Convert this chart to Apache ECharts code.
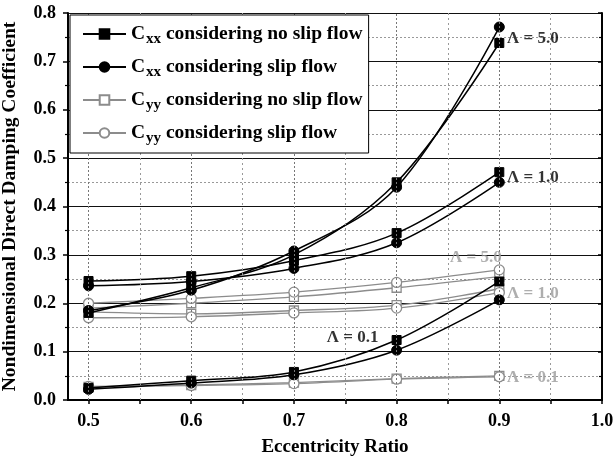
<!DOCTYPE html>
<html>
<head>
<meta charset="utf-8">
<script src="https://cdn.jsdelivr.net/npm/echarts@6/dist/echarts.min.js"></script>
<style>html,body{margin:0;padding:0;background:#fff;}#c{width:614px;height:468px;}</style>
</head>
<body>
<div id="c"></div>
<script>
// ---- data ----
const xValues = [0.5, 0.6, 0.7, 0.8, 0.9];
const xTickLabels = [0.5, 0.6, 0.7, 0.8, 0.9, 1.0];
const xMinorTicks = [0.55, 0.65, 0.75, 0.85, 0.95];
const seriesNames = [
  'Cxx considering no slip flow',
  'Cxx considering slip flow',
  'Cyy considering no slip flow',
  'Cyy considering slip flow'
];
// Cxx (no slip / slip) for Lambda = 0.1, 1.0, 5.0
const cxxNoSlip_L01 = [0.025, 0.040, 0.058, 0.124, 0.245];
const cxxSlip_L01   = [0.022, 0.035, 0.052, 0.103, 0.207];
const cxxNoSlip_L1  = [0.246, 0.256, 0.288, 0.345, 0.471];
const cxxSlip_L1    = [0.236, 0.245, 0.272, 0.325, 0.450];
const cxxNoSlip_L5  = [0.180, 0.232, 0.300, 0.450, 0.738];
const cxxSlip_L5    = [0.185, 0.227, 0.308, 0.440, 0.771];
// Cyy (no slip / slip) for Lambda = 0.1, 1.0, 5.0
const cyyNoSlip_L01 = [0.027, 0.031, 0.036, 0.044, 0.050];
const cyySlip_L01   = [0.028, 0.030, 0.034, 0.043, 0.048];
const cyyNoSlip_L1  = [0.182, 0.178, 0.185, 0.196, 0.230];
const cyySlip_L1    = [0.170, 0.172, 0.180, 0.190, 0.222];
const cyyNoSlip_L5  = [0.190, 0.200, 0.213, 0.232, 0.255];
const cyySlip_L5    = [0.200, 0.210, 0.223, 0.243, 0.269];
// annotations [text, x, y, group]
const annotations = [
  ['\u039B = 5.0', 0.9075, 0.748, 'cxx'],
  ['\u039B = 1.0', 0.9075, 0.459, 'cxx'],
  ['\u039B = 0.1', 0.732, 0.128, 'cxx'],
  ['\u039B = 5.0', 0.852, 0.294, 'cyy'],
  ['\u039B = 1.0', 0.9075, 0.219, 'cyy'],
  ['\u039B = 0.1', 0.9075, 0.0455, 'cyy']
];

const FONT = '"Liberation Serif","Times New Roman",serif';
const GRAY = '#8c8c8c';

function pairs(ys) { return xValues.map((x, i) => [x, ys[i]]); }

function mkSeries(name, ys, kind) {
  const isCxx = kind.startsWith('cxx');
  const isRect = kind.endsWith('rect');
  return {
    type: 'line', name: name, data: pairs(ys), smooth: 0.35,
    symbol: isRect ? 'rect' : 'circle',
    symbolSize: isRect ? 9 : 10,
    z: isCxx ? 4 : 3,
    lineStyle: { color: isCxx ? '#000' : GRAY, width: isCxx ? 1.5 : 1.3 },
    itemStyle: isCxx ? { color: '#000', borderColor: '#000', borderWidth: 1 }
                     : { color: '#fff', borderColor: GRAY, borderWidth: 1.3 },
    emphasis: { disabled: true }
  };
}

const series = [
  mkSeries(seriesNames[2], cyyNoSlip_L01, 'cyy-rect'),
  mkSeries(seriesNames[3], cyySlip_L01, 'cyy-circle'),
  mkSeries(seriesNames[2], cyyNoSlip_L1, 'cyy-rect'),
  mkSeries(seriesNames[3], cyySlip_L1, 'cyy-circle'),
  mkSeries(seriesNames[2], cyyNoSlip_L5, 'cyy-rect'),
  mkSeries(seriesNames[3], cyySlip_L5, 'cyy-circle'),
  mkSeries(seriesNames[0], cxxNoSlip_L01, 'cxx-rect'),
  mkSeries(seriesNames[1], cxxSlip_L01, 'cxx-circle'),
  mkSeries(seriesNames[0], cxxNoSlip_L1, 'cxx-rect'),
  mkSeries(seriesNames[1], cxxSlip_L1, 'cxx-circle'),
  mkSeries(seriesNames[0], cxxNoSlip_L5, 'cxx-rect'),
  mkSeries(seriesNames[1], cxxSlip_L5, 'cxx-circle')
];

// vertical grid lines via markLine on an empty helper series
series.push({
  type: 'line', name: 'vgrid', data: [], silent: true, z: 1,
  markLine: {
    silent: true, symbol: 'none', label: { show: false },
    data: xTickLabels.slice(0, 5).map(v => ({ xAxis: v, lineStyle: { color: '#777', type: [2, 2], width: 1 } }))
      .concat(xMinorTicks.map(v => ({ xAxis: v, lineStyle: { color: '#999', type: [2, 3], width: 1 } })))
  }
});

// annotation labels
series.push({
  type: 'scatter', name: 'notes', symbolSize: 0, silent: true, z: 6,
  data: annotations.map(a => ({
    value: [a[1], a[2]],
    label: {
      show: true, position: 'right', distance: 0, formatter: a[0],
      fontFamily: FONT, fontWeight: 'bold', fontSize: 17,
      color: a[3] === 'cxx' ? '#000' : '#9a9a9a'
    }
  }))
});

const legendRich = {
  c: { fontSize: 19.5, fontWeight: 'bold', fontFamily: FONT, color: '#000' },
  s: { fontSize: 15, fontWeight: 'bold', fontFamily: FONT, color: '#000', padding: [11, 0, 0, 1] },
  t: { fontSize: 19.5, fontWeight: 'bold', fontFamily: FONT, color: '#000' }
};

const axisLabelStyle = { fontFamily: FONT, fontWeight: 'bold', fontSize: 18, color: '#000' };

const option = {
  animation: false,
  backgroundColor: '#fff',
  grid: { left: 68, right: 12, top: 13, bottom: 68, containLabel: false, outerBoundsMode: 'none' },
  legend: {
    data: seriesNames,
    orient: 'vertical', left: 70, top: 15,
    padding: [9, 6, 7, 12],
    itemGap: 10, itemWidth: 43, itemHeight: 12,
    backgroundColor: '#fff', borderColor: '#000', borderWidth: 1,
    z: 10,
    formatter: function (name) {
      const sub = name.substr(1, 2);
      return '{c|C}{s|' + sub + '}{t|' + name.substr(3) + '}';
    },
    textStyle: { rich: legendRich, fontSize: 19.5 }
  },
  xAxis: [{
    type: 'value', min: 0.48, max: 1.0,
    name: 'Eccentricity Ratio', nameLocation: 'middle', nameGap: 38,
    nameTextStyle: { fontFamily: FONT, fontWeight: 'bold', fontSize: 19, color: '#000' },
    axisLine: { show: true, lineStyle: { color: '#000', width: 2 } },
    axisTick: { show: true, inside: false, length: 4, lineStyle: { color: '#000', width: 1.5 },
                customValues: xTickLabels.concat(xMinorTicks) },
    axisLabel: { ...axisLabelStyle, margin: 12, customValues: xTickLabels,
                 formatter: v => Number(v).toFixed(1) },
    splitLine: { show: false }
  }, {
    type: 'value', min: 0.48, max: 1.0, position: 'top',
    axisLine: { show: true, lineStyle: { color: '#000', width: 2 } },
    axisTick: { show: true, inside: true, length: 4, lineStyle: { color: '#000', width: 1.5 },
                customValues: xTickLabels.concat(xMinorTicks) },
    axisLabel: { show: false }, splitLine: { show: false }
  }],
  yAxis: [{
    type: 'value', min: 0, max: 0.8, interval: 0.1,
    name: 'Nondimensional Direct Damping Coefficient', nameLocation: 'middle', nameGap: 48,
    nameTextStyle: { fontFamily: FONT, fontWeight: 'bold', fontSize: 19.5, color: '#000' },
    axisLine: { show: true, lineStyle: { color: '#000', width: 2 } },
    axisTick: { show: true, inside: false, length: 5, lineStyle: { color: '#000', width: 1.5 } },
    minorTick: { show: true, splitNumber: 2, length: 3, lineStyle: { color: '#000', width: 1.2 } },
    axisLabel: { ...axisLabelStyle, margin: 12, formatter: v => Number(v).toFixed(1) },
    splitLine: { show: true, lineStyle: { color: '#111', width: 1.2 } },
    minorSplitLine: { show: true, lineStyle: { color: '#999', type: [2, 2], width: 1 } }
  }, {
    type: 'value', min: 0, max: 0.8, interval: 0.1, position: 'right',
    axisLine: { show: true, lineStyle: { color: '#000', width: 2 } },
    axisTick: { show: true, inside: true, length: 4, lineStyle: { color: '#000', width: 1.5 } },
    minorTick: { show: true, splitNumber: 2, length: 3, lineStyle: { color: '#000', width: 1.2 } },
    axisLabel: { show: false }, splitLine: { show: false }
  }],
  series: series
};

const chart = echarts.init(document.getElementById('c'), null, { renderer: 'canvas' });
chart.setOption(option);
</script>
</body>
</html>
